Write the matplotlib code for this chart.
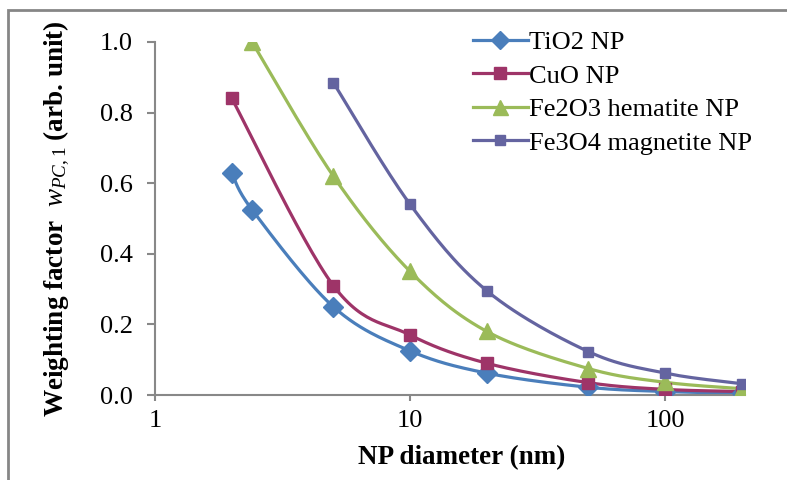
import numpy as np
import matplotlib.pyplot as plt
from matplotlib.patches import Rectangle

# 數據：粒徑 (nm) 與權重因子
d_tio2 = [2, 2.4, 5, 10, 20, 50, 100, 200]
w_tio2 = [0.63, 0.525, 0.25, 0.125, 0.062, 0.022, 0.01, 0.005]

d_cuo = [2, 5, 10, 20, 50, 100, 200]
w_cuo = [0.84, 0.31, 0.17, 0.09, 0.035, 0.016, 0.01]

d_fe2o3 = [2.4, 5, 10, 20, 50, 100, 200]
w_fe2o3 = [1.0, 0.62, 0.35, 0.18, 0.075, 0.036, 0.018]

d_fe3o4 = [5, 10, 20, 50, 100, 200]
w_fe3o4 = [0.885, 0.54, 0.295, 0.123, 0.062, 0.032]

labels = ['TiO2 NP', 'CuO NP', 'Fe2O3 hematite NP', 'Fe3O4 magnetite NP']
colors = ['#4A7EBB', '#9E3468', '#9BBB59', '#6464A0']
markers = ['D', 's', '^', 's']
msizes = [10.5, 9, 12, 7.5]

plt.rcParams['font.family'] = ['Liberation Serif', 'DejaVu Serif']
plt.rcParams['mathtext.fontset'] = 'custom'
plt.rcParams['mathtext.it'] = 'Liberation Serif:italic'
plt.rcParams['mathtext.rm'] = 'Liberation Serif'


def smooth(x, y, sx=255.0, sy=353.0, n=30):
    # Excel 式平滑曲線 (Catmull-Rom)，在 log-x 畫面座標中計算
    px = np.log10(np.asarray(x, float)) * sx
    py = np.asarray(y, float) * sy
    P = np.column_stack([px, py])
    P = np.vstack([P[0], P, P[-1]])
    out = []
    for i in range(1, len(P) - 2):
        p0, p1, p2, p3 = P[i - 1], P[i], P[i + 1], P[i + 2]
        c1 = p1 + (p2 - p0) / 6
        c2 = p2 - (p3 - p1) / 6
        t = np.linspace(0, 1, n)[:, None]
        b = (1 - t) ** 3 * p1 + 3 * (1 - t) ** 2 * t * c1 + 3 * (1 - t) * t ** 2 * c2 + t ** 3 * p2
        out.append(b if i == 1 else b[1:])
    out = np.vstack(out)
    return 10 ** (out[:, 0] / sx), out[:, 1] / sy


fig = plt.figure(figsize=(7.87, 4.8), dpi=100)
ax = fig.add_axes([0.197, 0.177, 0.75, 0.7355])

series = [(d_tio2, w_tio2), (d_cuo, w_cuo), (d_fe2o3, w_fe2o3), (d_fe3o4, w_fe3o4)]
for (x, y), lab, c, m, ms in zip(series, labels, colors, markers, msizes):
    xs, ys = smooth(x, y)
    ax.plot(xs, ys, color=c, lw=2.3, solid_capstyle='round', zorder=2)
    ax.plot(x, y, ls='none', marker=m, color=c, ms=ms, zorder=3)
    ax.plot([], [], color=c, lw=2.3, marker=m, ms=ms * 0.9, label=lab)

ax.set_xscale('log')
ax.set_xlim(1, 206)
ax.set_ylim(0, 1.0)
ax.set_xticks([1, 10, 100])
ax.set_xticklabels(['1', '10', '100'])
ax.xaxis.set_minor_locator(plt.NullLocator())
ax.set_yticks(np.arange(0, 1.01, 0.2))
ax.set_yticklabels(['%.1f' % v for v in np.arange(0, 1.01, 0.2)])

for s in ['top', 'right']:
    ax.spines[s].set_visible(False)
for s in ['left', 'bottom']:
    ax.spines[s].set_color('#888888')
    ax.spines[s].set_linewidth(1.5)
ax.spines['left'].set_zorder(1)
ax.tick_params(axis='both', colors='#888888', width=1.5, labelcolor='black', labelsize=19)
ax.tick_params(axis='y', length=6, pad=10)
ax.tick_params(axis='x', length=4, pad=7)

ax.set_xlabel('NP diameter (nm)', fontsize=19.5, fontweight='bold')
ax.xaxis.set_label_coords(0.52, -0.142)
ax.set_ylabel(r'Weighting factor  $w_{PC,1}$ (arb. unit)', fontsize=19.5, fontweight='bold', labelpad=20)

ax.legend(loc='upper left', bbox_to_anchor=(0.52, 1.062), frameon=False, fontsize=19,
          handlelength=2.1, handletextpad=0.05, labelspacing=0.38, borderaxespad=0)

# 外框
fig.patches.append(Rectangle((8 / 787, -0.1), 1.2, 1.1 - 10 / 480, transform=fig.transFigure,
                             fill=False, edgecolor='#868686', lw=2))

plt.savefig('out.png')
